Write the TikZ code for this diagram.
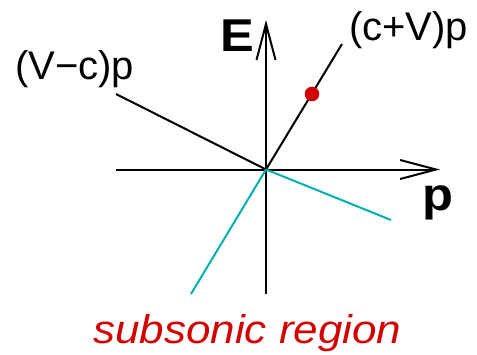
\documentclass[tikz,border=0pt]{standalone}
\usepackage{fontspec}
\setmainfont{Liberation Sans}
\newfontfamily\widefont{Liberation Sans}[FakeStretch=1.1]
\usetikzlibrary{arrows.meta}
\definecolor{cyanline}{RGB}{0,176,176}
\definecolor{dotred}{RGB}{210,0,0}
\begin{document}
\begin{tikzpicture}[x=1pt,y=-1pt,
  axis/.style={line width=2pt,-{Straight Barb[length=36pt,width=19pt,line width=2pt]}},
  ray/.style={line width=2pt,black},
  cyanray/.style={line width=2pt,cyanline},
  lab/.style={inner sep=0pt,anchor=base west,font=\fontsize{40}{44}\selectfont},
  boldlab/.style={inner sep=0pt,anchor=base west,font=\fontsize{46}{50}\selectfont\widefont\bfseries}]
\useasboundingbox (0,0) rectangle (477,354);
\coordinate (O) at (266,169.5);
\coordinate (ybot) at (266,294);
\coordinate (ytop) at (266,20);
\coordinate (xleft) at (116,169.5);
\coordinate (xright) at (440,169.5);
\coordinate (cvend) at (342,44);
\coordinate (vcend) at (116,94);
\coordinate (cyr) at (391,220);
\coordinate (cyl) at (191,294);
\draw[axis] (ybot) -- (ytop);
\draw[axis] (xleft) -- (xright);
\draw[ray] (O) -- (cvend);
\draw[ray] (O) -- (vcend);
\draw[cyanray] (O) -- (cyr);
\draw[cyanray] (O) -- (cyl);
\fill[dotred] (312,94) circle (7.3pt) coordinate (dot);
\node[boldlab] (E) at (220,51) {E};
\node[boldlab] (P) at (422,210) {p};
\node[lab] (cV) at (349,40) {(c+V)p};
\node[lab] (Vc) at (15,79) {(V−c)p};
\node[inner sep=0pt,anchor=base west,text=dotred,font=\fontsize{40}{44}\selectfont\widefont\itshape] (sub) at (93,343) {subsonic region};
\end{tikzpicture}
\end{document}
